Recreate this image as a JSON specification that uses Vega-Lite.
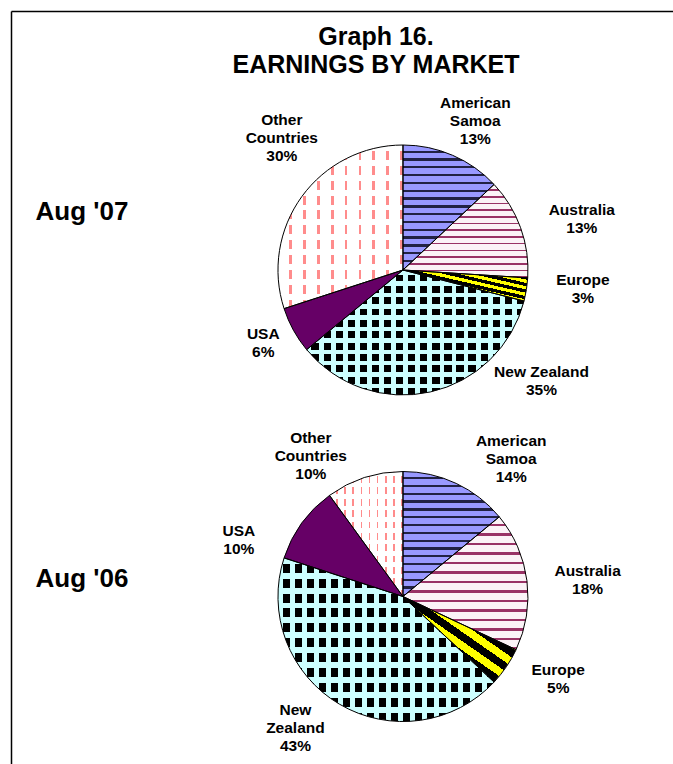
{
  "$schema": "https://vega.github.io/schema/vega-lite/v6.json",
  "width": 662,
  "height": 753,
  "autosize": {"type": "none"},
  "padding": {"left": 11, "top": 11, "right": 0, "bottom": 0},
  "background": "white",
  "config": {"view": {"stroke": null}, "font": "Liberation Sans"},
  "title": {
    "text": ["Graph 16.", "EARNINGS BY MARKET"],
    "fontSize": 25,
    "fontWeight": "bold",
    "font": "Liberation Sans",
    "color": "black",
    "lineHeight": 28,
    "anchor": "middle",
    "frame": "group",
    "baseline": "top",
    "dx": 34,
    "offset": -67
  },
  "data": {
    "values": [
      {"period": "Aug '07", "id": "AS07", "market": "American Samoa", "pct": 13, "seq": 1, "label": "American\nSamoa\n13%"},
      {"period": "Aug '07", "id": "AU07", "market": "Australia", "pct": 13, "seq": 2, "label": "Australia\n13%"},
      {"period": "Aug '07", "id": "EU07", "market": "Europe", "pct": 3, "seq": 3, "label": "Europe\n3%"},
      {"period": "Aug '07", "id": "NZ07", "market": "New Zealand", "pct": 35, "seq": 4, "label": "New Zealand\n35%"},
      {"period": "Aug '07", "id": "US07", "market": "USA", "pct": 6, "seq": 5, "label": "USA\n6%"},
      {"period": "Aug '07", "id": "OT07", "market": "Other Countries", "pct": 30, "seq": 6, "label": "Other\nCountries\n30%"},
      {"period": "Aug '06", "id": "AS06", "market": "American Samoa", "pct": 14, "seq": 7, "label": "American\nSamoa\n14%"},
      {"period": "Aug '06", "id": "AU06", "market": "Australia", "pct": 18, "seq": 8, "label": "Australia\n18%"},
      {"period": "Aug '06", "id": "EU06", "market": "Europe", "pct": 5, "seq": 9, "label": "Europe\n5%"},
      {"period": "Aug '06", "id": "NZ06", "market": "New Zealand", "pct": 43, "seq": 10, "label": "New\nZealand\n43%"},
      {"period": "Aug '06", "id": "US06", "market": "USA", "pct": 10, "seq": 11, "label": "USA\n10%"},
      {"period": "Aug '06", "id": "OT06", "market": "Other Countries", "pct": 10, "seq": 12, "label": "Other\nCountries\n10%"}
    ]
  },
  "encoding": {
    "x": {
      "datum": "pies", "type": "nominal",
      "scale": {"type": "point", "domain": ["pies"], "padding": 0.5, "align": 0.5921},
      "axis": {"orient": "top", "labels": false, "ticks": false, "title": null, "domainColor": "black", "domainWidth": 1.5, "grid": false}
    },
    "y": {
      "field": "period", "type": "nominal", "sort": ["Aug '07", "Aug '06"],
      "scale": {"type": "point", "padding": 0.6531, "align": 0.6073},
      "axis": {
        "orient": "left", "ticks": false, "tickSize": 0, "title": null, "grid": false,
        "domainColor": "black", "domainWidth": 1.5,
        "labelAlign": "left", "labelPadding": -24, "labelFontSize": 26, "labelFontWeight": "bold",
        "labelColor": "black", "labelFont": "Liberation Sans",
        "labelOffset": {"condition": {"test": "datum.value === \"Aug '07\"", "value": -59}, "value": -18.5}
      }
    },
    "theta": {"field": "pct", "type": "quantitative", "stack": true, "scale": {"domain": [0, 200], "range": [0, 12.566370614359172]}},
    "order": {"field": "seq", "type": "quantitative"},
    "detail": {"field": "market", "type": "nominal"}
  },
  "layer": [
    {
      "mark": {"type": "arc", "outerRadius": 125, "strokeWidth": 0},
      "encoding": {
        "fill": {
          "condition": [
            {"test": "datum.market === 'American Samoa'", "value": {"gradient": "linear", "x1": 0, "y1": 0, "x2": 0, "y2": 1, "stops": [
              {"offset": 0, "color": "#9999ff"}, {"offset": 0.044, "color": "#9999ff"}, {"offset": 0.044, "color": "#222244"}, {"offset": 0.0625, "color": "#222244"},
              {"offset": 0.0625, "color": "#9999ff"}, {"offset": 0.1065, "color": "#9999ff"}, {"offset": 0.1065, "color": "#222244"}, {"offset": 0.125, "color": "#222244"},
              {"offset": 0.125, "color": "#9999ff"}, {"offset": 0.169, "color": "#9999ff"}, {"offset": 0.169, "color": "#222244"}, {"offset": 0.1875, "color": "#222244"},
              {"offset": 0.1875, "color": "#9999ff"}, {"offset": 0.2315, "color": "#9999ff"}, {"offset": 0.2315, "color": "#222244"}, {"offset": 0.25, "color": "#222244"},
              {"offset": 0.25, "color": "#9999ff"}, {"offset": 0.294, "color": "#9999ff"}, {"offset": 0.294, "color": "#222244"}, {"offset": 0.3125, "color": "#222244"},
              {"offset": 0.3125, "color": "#9999ff"}, {"offset": 0.3565, "color": "#9999ff"}, {"offset": 0.3565, "color": "#222244"}, {"offset": 0.375, "color": "#222244"},
              {"offset": 0.375, "color": "#9999ff"}, {"offset": 0.419, "color": "#9999ff"}, {"offset": 0.419, "color": "#222244"}, {"offset": 0.4375, "color": "#222244"},
              {"offset": 0.4375, "color": "#9999ff"}, {"offset": 0.4815, "color": "#9999ff"}, {"offset": 0.4815, "color": "#222244"}, {"offset": 0.5, "color": "#222244"},
              {"offset": 0.5, "color": "#9999ff"}, {"offset": 0.544, "color": "#9999ff"}, {"offset": 0.544, "color": "#222244"}, {"offset": 0.5625, "color": "#222244"},
              {"offset": 0.5625, "color": "#9999ff"}, {"offset": 0.6065, "color": "#9999ff"}, {"offset": 0.6065, "color": "#222244"}, {"offset": 0.625, "color": "#222244"},
              {"offset": 0.625, "color": "#9999ff"}, {"offset": 0.669, "color": "#9999ff"}, {"offset": 0.669, "color": "#222244"}, {"offset": 0.6875, "color": "#222244"},
              {"offset": 0.6875, "color": "#9999ff"}, {"offset": 0.7315, "color": "#9999ff"}, {"offset": 0.7315, "color": "#222244"}, {"offset": 0.75, "color": "#222244"},
              {"offset": 0.75, "color": "#9999ff"}, {"offset": 0.794, "color": "#9999ff"}, {"offset": 0.794, "color": "#222244"}, {"offset": 0.8125, "color": "#222244"},
              {"offset": 0.8125, "color": "#9999ff"}, {"offset": 0.8565, "color": "#9999ff"}, {"offset": 0.8565, "color": "#222244"}, {"offset": 0.875, "color": "#222244"},
              {"offset": 0.875, "color": "#9999ff"}, {"offset": 0.919, "color": "#9999ff"}, {"offset": 0.919, "color": "#222244"}, {"offset": 0.9375, "color": "#222244"},
              {"offset": 0.9375, "color": "#9999ff"}, {"offset": 0.9815, "color": "#9999ff"}, {"offset": 0.9815, "color": "#222244"}, {"offset": 1, "color": "#222244"}
            ]}},
            {"test": "datum.market === 'Australia'", "value": {"gradient": "linear", "x1": 0, "y1": 0, "x2": 0, "y2": 1, "stops": [
              {"offset": 0, "color": "#fbf3f7"}, {"offset": 0.0536, "color": "#fbf3f7"}, {"offset": 0.0536, "color": "#993366"}, {"offset": 0.0714, "color": "#993366"},
              {"offset": 0.0714, "color": "#fbf3f7"}, {"offset": 0.125, "color": "#fbf3f7"}, {"offset": 0.125, "color": "#993366"}, {"offset": 0.1429, "color": "#993366"},
              {"offset": 0.1429, "color": "#fbf3f7"}, {"offset": 0.1965, "color": "#fbf3f7"}, {"offset": 0.1965, "color": "#993366"}, {"offset": 0.2143, "color": "#993366"},
              {"offset": 0.2143, "color": "#fbf3f7"}, {"offset": 0.2679, "color": "#fbf3f7"}, {"offset": 0.2679, "color": "#993366"}, {"offset": 0.2857, "color": "#993366"},
              {"offset": 0.2857, "color": "#fbf3f7"}, {"offset": 0.3393, "color": "#fbf3f7"}, {"offset": 0.3393, "color": "#993366"}, {"offset": 0.3571, "color": "#993366"},
              {"offset": 0.3571, "color": "#fbf3f7"}, {"offset": 0.4107, "color": "#fbf3f7"}, {"offset": 0.4107, "color": "#993366"}, {"offset": 0.4286, "color": "#993366"},
              {"offset": 0.4286, "color": "#fbf3f7"}, {"offset": 0.4822, "color": "#fbf3f7"}, {"offset": 0.4822, "color": "#993366"}, {"offset": 0.5, "color": "#993366"},
              {"offset": 0.5, "color": "#fbf3f7"}, {"offset": 0.5536, "color": "#fbf3f7"}, {"offset": 0.5536, "color": "#993366"}, {"offset": 0.5714, "color": "#993366"},
              {"offset": 0.5714, "color": "#fbf3f7"}, {"offset": 0.625, "color": "#fbf3f7"}, {"offset": 0.625, "color": "#993366"}, {"offset": 0.6429, "color": "#993366"},
              {"offset": 0.6429, "color": "#fbf3f7"}, {"offset": 0.6965, "color": "#fbf3f7"}, {"offset": 0.6965, "color": "#993366"}, {"offset": 0.7143, "color": "#993366"},
              {"offset": 0.7143, "color": "#fbf3f7"}, {"offset": 0.7679, "color": "#fbf3f7"}, {"offset": 0.7679, "color": "#993366"}, {"offset": 0.7857, "color": "#993366"},
              {"offset": 0.7857, "color": "#fbf3f7"}, {"offset": 0.8393, "color": "#fbf3f7"}, {"offset": 0.8393, "color": "#993366"}, {"offset": 0.8571, "color": "#993366"},
              {"offset": 0.8571, "color": "#fbf3f7"}, {"offset": 0.9107, "color": "#fbf3f7"}, {"offset": 0.9107, "color": "#993366"}, {"offset": 0.9286, "color": "#993366"},
              {"offset": 0.9286, "color": "#fbf3f7"}, {"offset": 0.9822, "color": "#fbf3f7"}, {"offset": 0.9822, "color": "#993366"}, {"offset": 1, "color": "#993366"}
            ]}},
            {"test": "datum.market === 'Europe'", "value": {"gradient": "linear", "x1": 0, "y1": 1, "x2": 0.957, "y2": -0.04, "stops": [
              {"offset": 0, "color": "#ffff00"}, {"offset": 0.0556, "color": "#ffff00"}, {"offset": 0.0556, "color": "#000000"}, {"offset": 0.1111, "color": "#000000"},
              {"offset": 0.1111, "color": "#ffff00"}, {"offset": 0.1667, "color": "#ffff00"}, {"offset": 0.1667, "color": "#000000"}, {"offset": 0.2222, "color": "#000000"},
              {"offset": 0.2222, "color": "#ffff00"}, {"offset": 0.2778, "color": "#ffff00"}, {"offset": 0.2778, "color": "#000000"}, {"offset": 0.3333, "color": "#000000"},
              {"offset": 0.3333, "color": "#ffff00"}, {"offset": 0.3889, "color": "#ffff00"}, {"offset": 0.3889, "color": "#000000"}, {"offset": 0.4444, "color": "#000000"},
              {"offset": 0.4444, "color": "#ffff00"}, {"offset": 0.5, "color": "#ffff00"}, {"offset": 0.5, "color": "#000000"}, {"offset": 0.5556, "color": "#000000"},
              {"offset": 0.5556, "color": "#ffff00"}, {"offset": 0.6111, "color": "#ffff00"}, {"offset": 0.6111, "color": "#000000"}, {"offset": 0.6667, "color": "#000000"},
              {"offset": 0.6667, "color": "#ffff00"}, {"offset": 0.7222, "color": "#ffff00"}, {"offset": 0.7222, "color": "#000000"}, {"offset": 0.7778, "color": "#000000"},
              {"offset": 0.7778, "color": "#ffff00"}, {"offset": 0.8333, "color": "#ffff00"}, {"offset": 0.8333, "color": "#000000"}, {"offset": 0.8889, "color": "#000000"},
              {"offset": 0.8889, "color": "#ffff00"}, {"offset": 0.9444, "color": "#ffff00"}, {"offset": 0.9444, "color": "#000000"}, {"offset": 1, "color": "#000000"}
            ]}},
            {"test": "datum.market === 'New Zealand'", "value": {"gradient": "linear", "x1": 0, "y1": 0, "x2": 1, "y2": 0, "stops": [
              {"offset": 0, "color": "#ccffff"}, {"offset": 0.0222, "color": "#ccffff"}, {"offset": 0.0222, "color": "#000000"}, {"offset": 0.0556, "color": "#000000"},
              {"offset": 0.0556, "color": "#ccffff"}, {"offset": 0.0778, "color": "#ccffff"}, {"offset": 0.0778, "color": "#000000"}, {"offset": 0.1111, "color": "#000000"},
              {"offset": 0.1111, "color": "#ccffff"}, {"offset": 0.1333, "color": "#ccffff"}, {"offset": 0.1333, "color": "#000000"}, {"offset": 0.1667, "color": "#000000"},
              {"offset": 0.1667, "color": "#ccffff"}, {"offset": 0.1889, "color": "#ccffff"}, {"offset": 0.1889, "color": "#000000"}, {"offset": 0.2222, "color": "#000000"},
              {"offset": 0.2222, "color": "#ccffff"}, {"offset": 0.2444, "color": "#ccffff"}, {"offset": 0.2444, "color": "#000000"}, {"offset": 0.2778, "color": "#000000"},
              {"offset": 0.2778, "color": "#ccffff"}, {"offset": 0.3, "color": "#ccffff"}, {"offset": 0.3, "color": "#000000"}, {"offset": 0.3333, "color": "#000000"},
              {"offset": 0.3333, "color": "#ccffff"}, {"offset": 0.3556, "color": "#ccffff"}, {"offset": 0.3556, "color": "#000000"}, {"offset": 0.3889, "color": "#000000"},
              {"offset": 0.3889, "color": "#ccffff"}, {"offset": 0.4111, "color": "#ccffff"}, {"offset": 0.4111, "color": "#000000"}, {"offset": 0.4444, "color": "#000000"},
              {"offset": 0.4444, "color": "#ccffff"}, {"offset": 0.4667, "color": "#ccffff"}, {"offset": 0.4667, "color": "#000000"}, {"offset": 0.5, "color": "#000000"},
              {"offset": 0.5, "color": "#ccffff"}, {"offset": 0.5222, "color": "#ccffff"}, {"offset": 0.5222, "color": "#000000"}, {"offset": 0.5556, "color": "#000000"},
              {"offset": 0.5556, "color": "#ccffff"}, {"offset": 0.5778, "color": "#ccffff"}, {"offset": 0.5778, "color": "#000000"}, {"offset": 0.6111, "color": "#000000"},
              {"offset": 0.6111, "color": "#ccffff"}, {"offset": 0.6333, "color": "#ccffff"}, {"offset": 0.6333, "color": "#000000"}, {"offset": 0.6667, "color": "#000000"},
              {"offset": 0.6667, "color": "#ccffff"}, {"offset": 0.6889, "color": "#ccffff"}, {"offset": 0.6889, "color": "#000000"}, {"offset": 0.7222, "color": "#000000"},
              {"offset": 0.7222, "color": "#ccffff"}, {"offset": 0.7444, "color": "#ccffff"}, {"offset": 0.7444, "color": "#000000"}, {"offset": 0.7778, "color": "#000000"},
              {"offset": 0.7778, "color": "#ccffff"}, {"offset": 0.8, "color": "#ccffff"}, {"offset": 0.8, "color": "#000000"}, {"offset": 0.8333, "color": "#000000"},
              {"offset": 0.8333, "color": "#ccffff"}, {"offset": 0.8556, "color": "#ccffff"}, {"offset": 0.8556, "color": "#000000"}, {"offset": 0.8889, "color": "#000000"},
              {"offset": 0.8889, "color": "#ccffff"}, {"offset": 0.9111, "color": "#ccffff"}, {"offset": 0.9111, "color": "#000000"}, {"offset": 0.9444, "color": "#000000"},
              {"offset": 0.9444, "color": "#ccffff"}, {"offset": 0.9667, "color": "#ccffff"}, {"offset": 0.9667, "color": "#000000"}, {"offset": 1, "color": "#000000"}
            ]}},
            {"test": "datum.market === 'Other Countries'", "value": {"gradient": "linear", "x1": 0, "y1": 0, "x2": 1, "y2": 0, "stops": [
              {"offset": 0, "color": "#ffffff"}, {"offset": 0.0889, "color": "#ffffff"}, {"offset": 0.0889, "color": "#ff8c8c"}, {"offset": 0.1111, "color": "#ff8c8c"},
              {"offset": 0.1111, "color": "#ffffff"}, {"offset": 0.2, "color": "#ffffff"}, {"offset": 0.2, "color": "#ff8c8c"}, {"offset": 0.2222, "color": "#ff8c8c"},
              {"offset": 0.2222, "color": "#ffffff"}, {"offset": 0.3111, "color": "#ffffff"}, {"offset": 0.3111, "color": "#ff8c8c"}, {"offset": 0.3333, "color": "#ff8c8c"},
              {"offset": 0.3333, "color": "#ffffff"}, {"offset": 0.4222, "color": "#ffffff"}, {"offset": 0.4222, "color": "#ff8c8c"}, {"offset": 0.4444, "color": "#ff8c8c"},
              {"offset": 0.4444, "color": "#ffffff"}, {"offset": 0.5333, "color": "#ffffff"}, {"offset": 0.5333, "color": "#ff8c8c"}, {"offset": 0.5556, "color": "#ff8c8c"},
              {"offset": 0.5556, "color": "#ffffff"}, {"offset": 0.6444, "color": "#ffffff"}, {"offset": 0.6444, "color": "#ff8c8c"}, {"offset": 0.6667, "color": "#ff8c8c"},
              {"offset": 0.6667, "color": "#ffffff"}, {"offset": 0.7556, "color": "#ffffff"}, {"offset": 0.7556, "color": "#ff8c8c"}, {"offset": 0.7778, "color": "#ff8c8c"},
              {"offset": 0.7778, "color": "#ffffff"}, {"offset": 0.8667, "color": "#ffffff"}, {"offset": 0.8667, "color": "#ff8c8c"}, {"offset": 0.8889, "color": "#ff8c8c"},
              {"offset": 0.8889, "color": "#ffffff"}, {"offset": 0.9778, "color": "#ffffff"}, {"offset": 0.9778, "color": "#ff8c8c"}, {"offset": 1, "color": "#ff8c8c"}
            ]}}
          ],
          "value": "#660066"
        }
      }
    },
    {
      "mark": {"type": "arc", "outerRadius": 125, "strokeWidth": 0},
      "encoding": {
        "fill": {
          "condition": [
            {"test": "datum.market === 'New Zealand'", "value": {"gradient": "linear", "x1": 0, "y1": 0, "x2": 0, "y2": 1, "stops": [
              {"offset": 0, "color": "#ccffff"}, {"offset": 0.0364, "color": "#ccffff"}, {"offset": 0.0364, "color": "rgba(204,255,255,0)"}, {"offset": 0.0909, "color": "rgba(204,255,255,0)"},
              {"offset": 0.0909, "color": "#ccffff"}, {"offset": 0.1273, "color": "#ccffff"}, {"offset": 0.1273, "color": "rgba(204,255,255,0)"}, {"offset": 0.1818, "color": "rgba(204,255,255,0)"},
              {"offset": 0.1818, "color": "#ccffff"}, {"offset": 0.2182, "color": "#ccffff"}, {"offset": 0.2182, "color": "rgba(204,255,255,0)"}, {"offset": 0.2727, "color": "rgba(204,255,255,0)"},
              {"offset": 0.2727, "color": "#ccffff"}, {"offset": 0.3091, "color": "#ccffff"}, {"offset": 0.3091, "color": "rgba(204,255,255,0)"}, {"offset": 0.3636, "color": "rgba(204,255,255,0)"},
              {"offset": 0.3636, "color": "#ccffff"}, {"offset": 0.4, "color": "#ccffff"}, {"offset": 0.4, "color": "rgba(204,255,255,0)"}, {"offset": 0.4545, "color": "rgba(204,255,255,0)"},
              {"offset": 0.4545, "color": "#ccffff"}, {"offset": 0.4909, "color": "#ccffff"}, {"offset": 0.4909, "color": "rgba(204,255,255,0)"}, {"offset": 0.5455, "color": "rgba(204,255,255,0)"},
              {"offset": 0.5455, "color": "#ccffff"}, {"offset": 0.5819, "color": "#ccffff"}, {"offset": 0.5819, "color": "rgba(204,255,255,0)"}, {"offset": 0.6364, "color": "rgba(204,255,255,0)"},
              {"offset": 0.6364, "color": "#ccffff"}, {"offset": 0.6727, "color": "#ccffff"}, {"offset": 0.6727, "color": "rgba(204,255,255,0)"}, {"offset": 0.7273, "color": "rgba(204,255,255,0)"},
              {"offset": 0.7273, "color": "#ccffff"}, {"offset": 0.7637, "color": "#ccffff"}, {"offset": 0.7637, "color": "rgba(204,255,255,0)"}, {"offset": 0.8182, "color": "rgba(204,255,255,0)"},
              {"offset": 0.8182, "color": "#ccffff"}, {"offset": 0.8546, "color": "#ccffff"}, {"offset": 0.8546, "color": "rgba(204,255,255,0)"}, {"offset": 0.9091, "color": "rgba(204,255,255,0)"},
              {"offset": 0.9091, "color": "#ccffff"}, {"offset": 0.9455, "color": "#ccffff"}, {"offset": 0.9455, "color": "rgba(204,255,255,0)"}, {"offset": 1, "color": "rgba(204,255,255,0)"}
            ]}},
            {"test": "datum.market === 'Other Countries'", "value": {"gradient": "linear", "x1": 0, "y1": 0, "x2": 0, "y2": 1, "stops": [
              {"offset": 0, "color": "#ffffff"}, {"offset": 0.0364, "color": "#ffffff"}, {"offset": 0.0364, "color": "rgba(255,255,255,0)"}, {"offset": 0.0909, "color": "rgba(255,255,255,0)"},
              {"offset": 0.0909, "color": "#ffffff"}, {"offset": 0.1273, "color": "#ffffff"}, {"offset": 0.1273, "color": "rgba(255,255,255,0)"}, {"offset": 0.1818, "color": "rgba(255,255,255,0)"},
              {"offset": 0.1818, "color": "#ffffff"}, {"offset": 0.2182, "color": "#ffffff"}, {"offset": 0.2182, "color": "rgba(255,255,255,0)"}, {"offset": 0.2727, "color": "rgba(255,255,255,0)"},
              {"offset": 0.2727, "color": "#ffffff"}, {"offset": 0.3091, "color": "#ffffff"}, {"offset": 0.3091, "color": "rgba(255,255,255,0)"}, {"offset": 0.3636, "color": "rgba(255,255,255,0)"},
              {"offset": 0.3636, "color": "#ffffff"}, {"offset": 0.4, "color": "#ffffff"}, {"offset": 0.4, "color": "rgba(255,255,255,0)"}, {"offset": 0.4545, "color": "rgba(255,255,255,0)"},
              {"offset": 0.4545, "color": "#ffffff"}, {"offset": 0.4909, "color": "#ffffff"}, {"offset": 0.4909, "color": "rgba(255,255,255,0)"}, {"offset": 0.5455, "color": "rgba(255,255,255,0)"},
              {"offset": 0.5455, "color": "#ffffff"}, {"offset": 0.5819, "color": "#ffffff"}, {"offset": 0.5819, "color": "rgba(255,255,255,0)"}, {"offset": 0.6364, "color": "rgba(255,255,255,0)"},
              {"offset": 0.6364, "color": "#ffffff"}, {"offset": 0.6727, "color": "#ffffff"}, {"offset": 0.6727, "color": "rgba(255,255,255,0)"}, {"offset": 0.7273, "color": "rgba(255,255,255,0)"},
              {"offset": 0.7273, "color": "#ffffff"}, {"offset": 0.7637, "color": "#ffffff"}, {"offset": 0.7637, "color": "rgba(255,255,255,0)"}, {"offset": 0.8182, "color": "rgba(255,255,255,0)"},
              {"offset": 0.8182, "color": "#ffffff"}, {"offset": 0.8546, "color": "#ffffff"}, {"offset": 0.8546, "color": "rgba(255,255,255,0)"}, {"offset": 0.9091, "color": "rgba(255,255,255,0)"},
              {"offset": 0.9091, "color": "#ffffff"}, {"offset": 0.9455, "color": "#ffffff"}, {"offset": 0.9455, "color": "rgba(255,255,255,0)"}, {"offset": 1, "color": "rgba(255,255,255,0)"}
            ]}}
          ],
          "value": "transparent"
        }
      }
    },
    {
      "mark": {"type": "arc", "outerRadius": 125, "filled": false, "stroke": "black", "strokeWidth": 1}
    },
    {"mark": {"type": "text", "radius": 172, "dx": 4, "dy": -9, "fontSize": 15.5, "fontWeight": "bold", "lineBreak": "\n", "lineHeight": 18, "color": "black"},
     "encoding": {"text": {"condition": {"test": "datum.id === 'AS07'", "field": "label"}, "value": ""}}},
    {"mark": {"type": "text", "radius": 172, "dx": 17, "dy": -2, "fontSize": 15.5, "fontWeight": "bold", "lineBreak": "\n", "lineHeight": 18, "color": "black"},
     "encoding": {"text": {"condition": {"test": "datum.id === 'AU07'", "field": "label"}, "value": ""}}},
    {"mark": {"type": "text", "radius": 172, "dx": 10, "dy": -17, "fontSize": 15.5, "fontWeight": "bold", "lineBreak": "\n", "lineHeight": 18, "color": "black"},
     "encoding": {"text": {"condition": {"test": "datum.id === 'EU07'", "field": "label"}, "value": ""}}},
    {"mark": {"type": "text", "radius": 172, "dx": 101, "dy": -66, "fontSize": 15.5, "fontWeight": "bold", "lineBreak": "\n", "lineHeight": 18, "color": "black"},
     "encoding": {"text": {"condition": {"test": "datum.id === 'NZ07'", "field": "label"}, "value": ""}}},
    {"mark": {"type": "text", "radius": 172, "dx": 11, "dy": -19, "fontSize": 15.5, "fontWeight": "bold", "lineBreak": "\n", "lineHeight": 18, "color": "black"},
     "encoding": {"text": {"condition": {"test": "datum.id === 'US07'", "field": "label"}, "value": ""}}},
    {"mark": {"type": "text", "radius": 172, "dx": 18, "dy": -49, "fontSize": 15.5, "fontWeight": "bold", "lineBreak": "\n", "lineHeight": 18, "color": "black"},
     "encoding": {"text": {"condition": {"test": "datum.id === 'OT07'", "field": "label"}, "value": ""}}},
    {"mark": {"type": "text", "radius": 172, "dx": 35, "dy": 0, "fontSize": 15.5, "fontWeight": "bold", "lineBreak": "\n", "lineHeight": 18, "color": "black"},
     "encoding": {"text": {"condition": {"test": "datum.id === 'AS06'", "field": "label"}, "value": ""}}},
    {"mark": {"type": "text", "radius": 172, "dx": 14, "dy": -4, "fontSize": 15.5, "fontWeight": "bold", "lineBreak": "\n", "lineHeight": 18, "color": "black"},
     "encoding": {"text": {"condition": {"test": "datum.id === 'AU06'", "field": "label"}, "value": ""}}},
    {"mark": {"type": "text", "radius": 172, "dx": 13, "dy": -23, "fontSize": 15.5, "fontWeight": "bold", "lineBreak": "\n", "lineHeight": 18, "color": "black"},
     "encoding": {"text": {"condition": {"test": "datum.id === 'EU06'", "field": "label"}, "value": ""}}},
    {"mark": {"type": "text", "radius": 172, "dx": -20, "dy": -35, "fontSize": 15.5, "fontWeight": "bold", "lineBreak": "\n", "lineHeight": 18, "color": "black"},
     "encoding": {"text": {"condition": {"test": "datum.id === 'NZ06'", "field": "label"}, "value": ""}}},
    {"mark": {"type": "text", "radius": 172, "dx": -25, "dy": 36, "fontSize": 15.5, "fontWeight": "bold", "lineBreak": "\n", "lineHeight": 18, "color": "black"},
     "encoding": {"text": {"condition": {"test": "datum.id === 'US06'", "field": "label"}, "value": ""}}},
    {"mark": {"type": "text", "radius": 172, "dx": -39, "dy": 5, "fontSize": 15.5, "fontWeight": "bold", "lineBreak": "\n", "lineHeight": 18, "color": "black"},
     "encoding": {"text": {"condition": {"test": "datum.id === 'OT06'", "field": "label"}, "value": ""}}}
  ]
}
